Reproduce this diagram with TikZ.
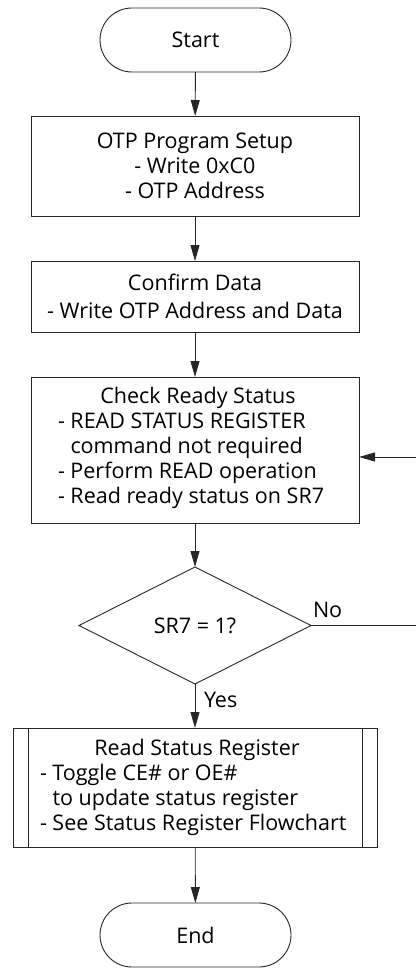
\documentclass[tikz,border=0pt]{standalone}
\usepackage{fontspec}
\setmainfont{Open Sans}
\usetikzlibrary{arrows.meta,shapes.geometric,shapes.misc}
\begin{document}
\begin{tikzpicture}[x=1pt,y=-1pt,
  line width=0.9pt, draw=black!85,
  every node/.style={font=\fontsize{21.5}{25}\selectfont, inner sep=0pt, outer sep=0pt},
  term/.style={draw, rounded rectangle, minimum width=191pt, minimum height=64pt},
  proc/.style={draw, rectangle, minimum width=328pt},
  arr/.style={-{Triangle[length=16pt,width=9pt]}},
  lbl/.style={anchor=west, align=left}
]
\useasboundingbox (0,0) rectangle (415,968);
\node[term] (start) at (195.5,40) {Start};
\node[proc, minimum height=100pt, align=center] (b1) at (195,166) {OTP Program Setup\\- Write 0xC0\\- OTP Address};
\node[proc, minimum height=71pt, align=center, font=\fontsize{21.5}{28}\selectfont] (b2) at (195,296.5) {Confirm Data\\- Write OTP Address and Data};
\node[proc, minimum height=146pt] (b3) at (195,450) {};
\node (b3t) at (198,398) {Check Ready Status};
\node[lbl] (b3l) at (58,461) {- READ STATUS REGISTER\\\hphantom{- }command not required\\- Perform READ operation\\- Read ready status on SR7};
\node[draw, diamond, minimum width=232pt, minimum height=117pt, inner sep=0pt, shape aspect=1.98] (d) at (195,625.5) {SR7 = 1?};
\node[draw, rectangle, minimum width=364pt, minimum height=119pt] (b4) at (195,787.5) {};
\draw (b4.north west) ++(15,0) coordinate (b4a) -- (b4a |- b4.south);
\draw (b4.north east) ++(-15,0) coordinate (b4b) -- (b4b |- b4.south);
\node (b4t) at (197,750) {Read Status Register};
\node[lbl] (b4l) at (40,800) {- Toggle CE\# or OE\#\\\hphantom{- }to update status register\\- See Status Register Flowchart};
\node[term] (end) at (195.5,935) {End};
\node[anchor=base west] (no) at (313,617) {No};
\node[anchor=base west] (yes) at (204,707) {Yes};
\coordinate (loop) at (421,625.5);
\coordinate (in3) at (359,457);
\draw[arr] (start) -- (b1);
\draw[arr] (b1) -- (b2);
\draw[arr] (b2) -- (b3);
\draw[arr] (b3.south -| d.north) -- (d.north);
\draw[arr] (d.south) -- (b4.north -| d.south);
\draw[arr] (b4) -- (end);
\draw[arr] (d.east) -- (loop) |- (in3);
\end{tikzpicture}
\end{document}
